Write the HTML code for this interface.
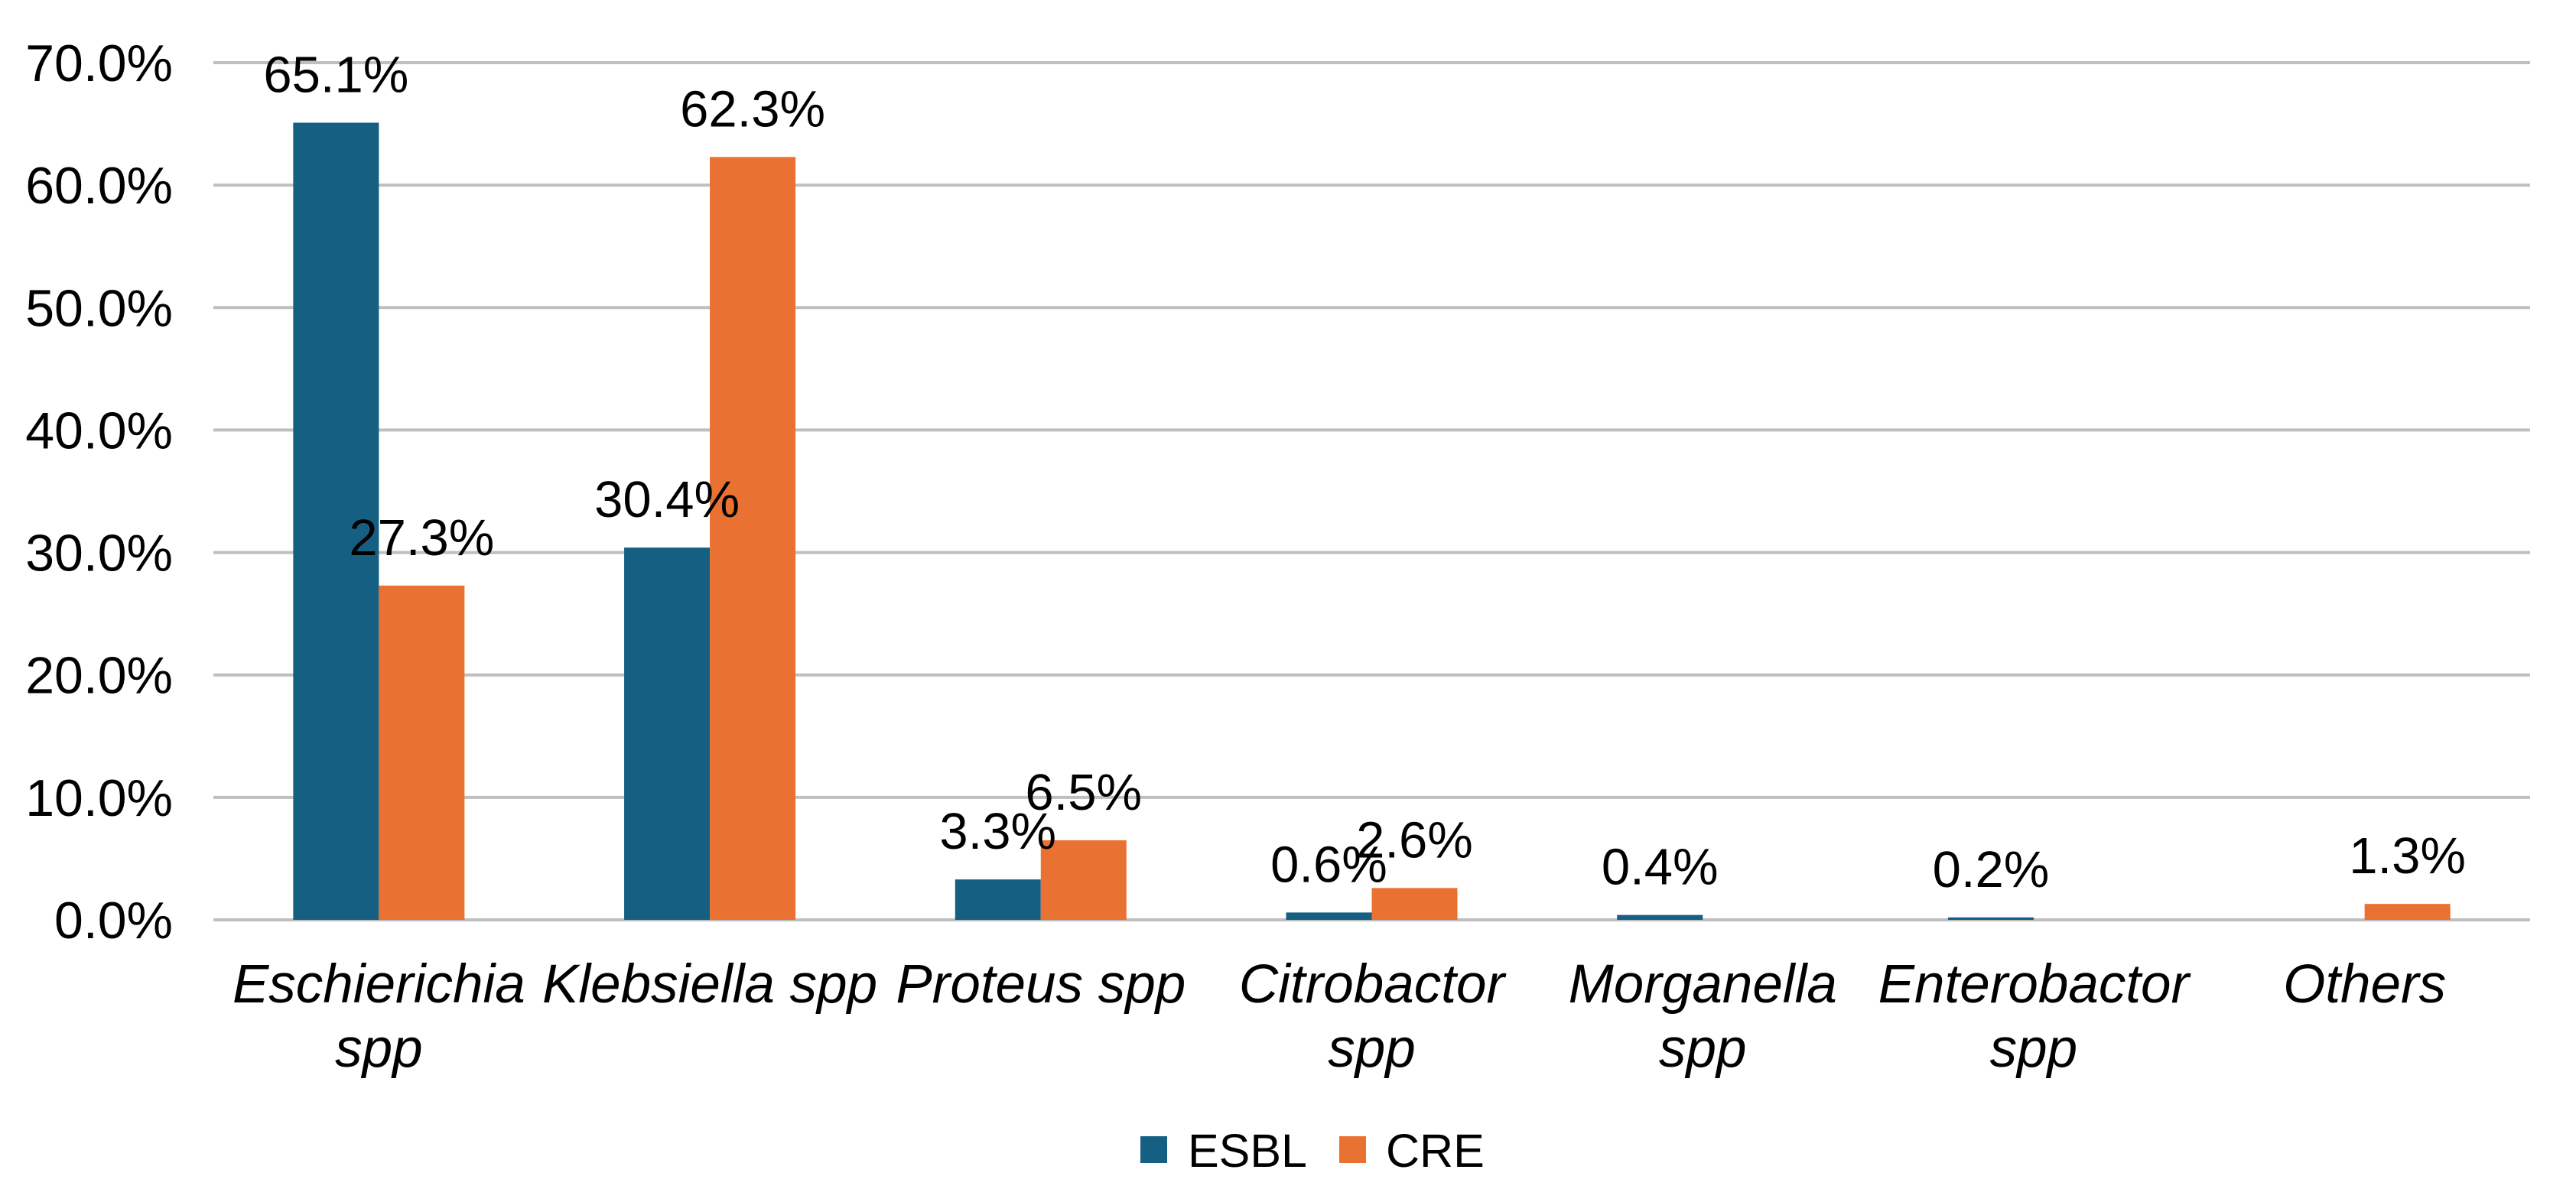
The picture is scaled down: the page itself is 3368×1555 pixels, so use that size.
<!DOCTYPE html>
<html><head><meta charset="utf-8"><style>
html,body{margin:0;padding:0;background:#fff;}
svg{display:block;font-family:"Liberation Sans",Arial,sans-serif;}
</style></head><body>
<svg id="chart" width="3368" height="1555" viewBox="0 0 3368 1555">
<g id="grid"></g>
<g id="yticks"></g>
<g id="bars"></g>
<g id="labels"></g>
<g id="xcats"></g>
<g>
  <rect x="1491" y="1486" width="35" height="35" fill="#156082"/>
  <text x="1553" y="1526" font-size="61" fill="#000">ESBL</text>
  <rect x="1751" y="1486" width="35" height="35" fill="#E97132"/>
  <text x="1812" y="1526" font-size="61" fill="#000">CRE</text>
</g>
</svg>
<script>
const categories = [["Eschierichia","spp"],["Klebsiella spp"],["Proteus spp"],["Citrobactor","spp"],["Morganella","spp"],["Enterobactor","spp"],["Others"]];
const esbl = [65.1, 30.4, 3.3, 0.6, 0.4, 0.2, null];
const cre = [27.3, 62.3, 6.5, 2.6, null, null, 1.3];
const yTicks = [0,10,20,30,40,50,60,70];

const NS = "http://www.w3.org/2000/svg";
const X0 = 279, X1 = 3308, Y0 = 1203, YTOP = 82, YMAX = 70;
const catW = (X1 - X0) / categories.length;
const barW = 112;
function y(v){ return Y0 - (v / YMAX) * (Y0 - YTOP); }
function xc(i){ return X0 + catW * (i + 0.5); }
function mk(tag, attrs, parent){
  const e = document.createElementNS(NS, tag);
  for (const k in attrs) e.setAttribute(k, attrs[k]);
  parent.appendChild(e);
  return e;
}
const grid = document.getElementById('grid');
const yt = document.getElementById('yticks');
yTicks.forEach(t => {
  const l = mk('line', {x1:X0, x2:X1, y1:y(t), y2:y(t), stroke:'#bfbfbf', 'stroke-width':4}, grid);
  
  
  const tx = mk('text', {x:226, y:y(t)+24, 'font-size':68, 'text-anchor':'end', fill:'#000'}, yt);
  tx.textContent = t.toFixed(1) + '%';
  
  
});
const bars = document.getElementById('bars');
const labels = document.getElementById('labels');
const series = [[esbl, '#156082', -1, 'esbl'], [cre, '#E97132', 0, 'cre']];
categories.forEach((c, i) => {
  series.forEach(s => {
    const v = s[0][i];
    if (v === null) return;
    const bx = xc(i) + s[2] * barW;
    const r = mk('rect', {x:bx, y:y(v), width:barW, height:Y0 - y(v), fill:s[1]}, bars);
    
    
    const t = mk('text', {x:bx + barW/2, y:y(v) - 40, 'font-size':67, 'text-anchor':'middle', fill:'#000'}, labels);
    t.textContent = v.toFixed(1) + '%';
    
    
  });
  const xg = document.getElementById('xcats');
  c.forEach((line, j) => {
    const t = mk('text', {x:xc(i), y:1311 + j*84, 'font-size':71, 'font-style':'italic', 'text-anchor':'middle', fill:'#000'}, xg);
    t.textContent = line;
    
    
  });
});
</script>
</body></html>
